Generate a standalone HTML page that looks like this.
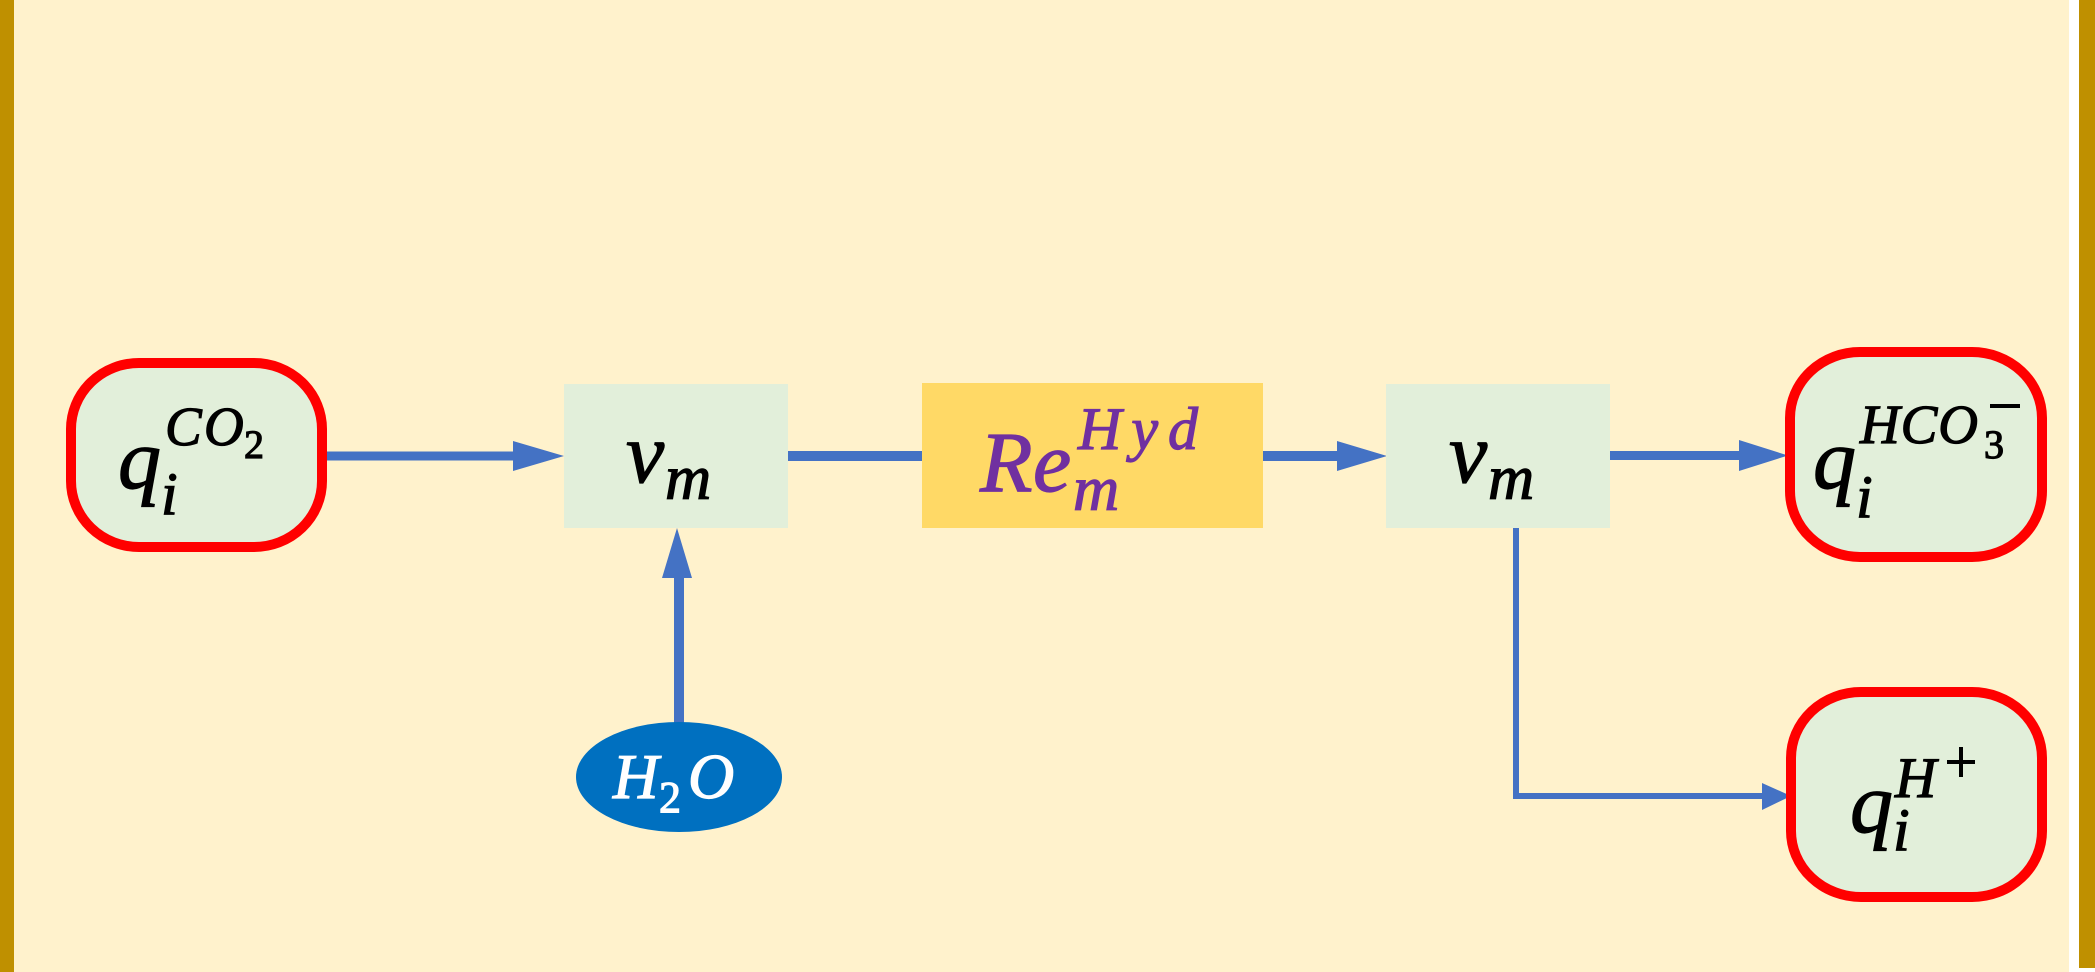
<!DOCTYPE html>
<html>
<head>
<meta charset="utf-8">
<style>
  html,body{margin:0;padding:0;background:#ffffff;}
  body{width:2095px;height:972px;overflow:hidden;}
  svg{display:block;}
  text{font-family:"Liberation Serif","DejaVu Serif",serif;font-style:italic;stroke-width:1.2;}
</style>
</head>
<body>
<svg width="2095" height="972" viewBox="0 0 2095 972" xmlns="http://www.w3.org/2000/svg">
  <!-- background -->
  <rect x="0" y="0" width="2095" height="972" fill="#ffffff"/>
  <rect x="14" y="0" width="2055" height="972" fill="#FFF2CC"/>
  <rect x="0" y="0" width="14" height="972" fill="#BF9000"/>
  <rect x="2079" y="0" width="16" height="968" fill="#BF9000"/>

  <!-- connectors -->
  <!-- CO2 -> v_m -->
  <rect x="323" y="451.5" width="192" height="9" fill="#4472C4"/>
  <polygon points="513,441 564,456 513,471" fill="#4472C4"/>
  <!-- v_m -> Hyd -->
  <rect x="788" y="451" width="136" height="10" fill="#4472C4"/>
  <!-- Hyd -> v_m2 -->
  <rect x="1263" y="451" width="76" height="10" fill="#4472C4"/>
  <polygon points="1337,441 1387,456 1337,471" fill="#4472C4"/>
  <!-- v_m2 -> HCO3 -->
  <rect x="1610" y="451" width="131" height="9" fill="#4472C4"/>
  <polygon points="1739,440 1788,455.5 1739,471" fill="#4472C4"/>
  <!-- H2O -> v_m -->
  <polygon points="674,577 684,577 684,725 674,725" fill="#4472C4"/>
  <polygon points="662,578 692,578 677,528" fill="#4472C4"/>
  <!-- elbow v_m2 -> H+ -->
  <rect x="1513" y="525" width="6" height="273" fill="#4472C4"/>
  <rect x="1513" y="793" width="251" height="6" fill="#4472C4"/>
  <polygon points="1762,783 1791,796 1762,810" fill="#4472C4"/>

  <!-- CO2 box -->
  <rect x="71" y="363" width="251" height="184" rx="68" ry="66" fill="#E2EFDA" stroke="#FF0000" stroke-width="10"/>
  <text x="118" y="488" font-size="86" fill="#000" stroke="#000">q</text>
  <text x="161" y="514" font-size="60" fill="#000" stroke="#000">i</text>
  <text x="165" y="445" font-size="55" fill="#000" stroke="#000">C</text>
  <text x="204" y="445" font-size="55" fill="#000" stroke="#000">O</text>
  <text x="244" y="458" font-size="40" fill="#000" stroke="#000" style="font-style:normal">2</text>

  <!-- v_m box 1 -->
  <rect x="564" y="384" width="224" height="144" fill="#E2EFDA"/>
  <text x="626" y="482" font-size="86" fill="#000" stroke="#000">v</text>
  <text x="665" y="499" font-size="64" fill="#000" stroke="#000">m</text>

  <!-- Hyd box -->
  <rect x="922" y="383" width="341" height="145" fill="#FFD966"/>
  <text x="980" y="491" font-size="86" fill="#7030A0" stroke="#7030A0">R</text>
  <text x="1033" y="491" font-size="86" fill="#7030A0" stroke="#7030A0">e</text>
  <text x="1073" y="510" font-size="64" fill="#7030A0" stroke="#7030A0">m</text>
  <text x="1078" y="449" font-size="60" fill="#7030A0" stroke="#7030A0" textLength="120" lengthAdjust="spacing">Hyd</text>

  <!-- v_m box 2 -->
  <rect x="1386" y="384" width="224" height="144" fill="#E2EFDA"/>
  <text x="1449" y="482" font-size="86" fill="#000" stroke="#000">v</text>
  <text x="1488" y="499" font-size="64" fill="#000" stroke="#000">m</text>

  <!-- HCO3- box -->
  <rect x="1790" y="352" width="252" height="205" rx="70" ry="66" fill="#E2EFDA" stroke="#FF0000" stroke-width="10"/>
  <text x="1813" y="488" font-size="86" fill="#000" stroke="#000">q</text>
  <text x="1856" y="517" font-size="60" fill="#000" stroke="#000">i</text>
  <text x="1860" y="443" font-size="55" fill="#000" stroke="#000" textLength="118" lengthAdjust="spacing">HCO</text>
  <text x="1984" y="458" font-size="40" fill="#000" stroke="#000" style="font-style:normal">3</text>
  <rect x="1990" y="404" width="30" height="4" fill="#000"/>

  <!-- H+ box -->
  <rect x="1791" y="692" width="251" height="205" rx="70" ry="66" fill="#E2EFDA" stroke="#FF0000" stroke-width="10"/>
  <text x="1850" y="832" font-size="86" fill="#000" stroke="#000">q</text>
  <text x="1893" y="850" font-size="60" fill="#000" stroke="#000">i</text>
  <text x="1895" y="797" font-size="57" fill="#000" stroke="#000">H</text>
  <rect x="1947" y="760" width="28" height="4" fill="#000"/>
  <rect x="1959" y="747" width="4" height="30" fill="#000"/>

  <!-- H2O ellipse -->
  <ellipse cx="679" cy="777" rx="103" ry="55" fill="#0070C0"/>
  <text x="613" y="798" font-size="63" fill="#ffffff" stroke="#ffffff">H</text>
  <text x="659" y="812" font-size="44" fill="#ffffff" stroke="#ffffff" style="font-style:normal">2</text>
  <text x="688" y="798" font-size="64" fill="#ffffff" stroke="#ffffff">O</text>
</svg>
</body>
</html>
